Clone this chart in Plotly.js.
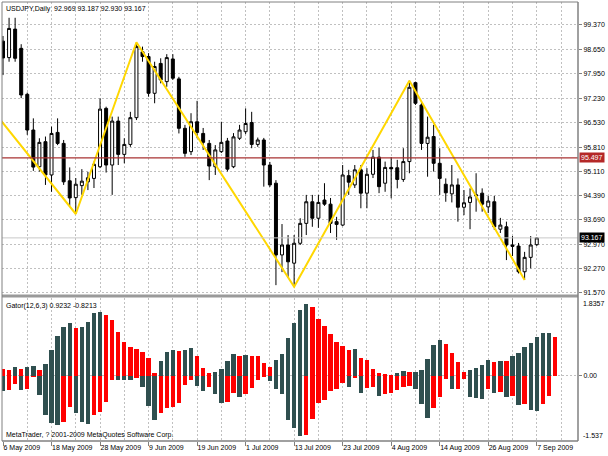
<!DOCTYPE html>
<html><head><meta charset="utf-8">
<script src="https://cdn.plot.ly/plotly-3.0.1.min.js"></script>
<style>html,body{margin:0;padding:0;background:#fff}#c{width:608px;height:456px}</style>
</head><body><div id="c"></div>
<script>
// ---- data ----
const opens = [98.90,98.42,99.25,98.69,97.35,96.31,95.24,95.97,95.00,96.24,
95.92,94.83,94.34,94.69,94.80,94.90,95.24,96.94,95.29,96.57,
95.60,95.89,96.67,98.59,98.45,97.38,98.25,97.72,98.38,97.80,
96.36,95.68,96.55,96.21,95.92,95.24,95.68,95.99,95.24,96.07,
96.26,96.53,95.89,96.02,95.29,94.76,92.67,92.96,92.43,93.01,
93.59,94.22,93.74,94.27,94.15,93.64,93.54,94.98,94.71,95.15,
94.47,95.02,95.52,94.76,95.22,95.21,94.87,95.39,97.69,97.04,
95.92,96.12,95.34,94.73,94.45,94.71,94.06,94.20,94.39,94.47,
94.07,94.22,93.42,93.49,92.96,92.93,92.18,92.60,92.969];
const highs = [99.05,99.58,99.58,98.81,97.40,96.65,96.07,96.12,96.41,96.65,
96.02,95.22,94.91,95.17,95.09,95.39,97.23,96.99,96.70,96.70,
96.07,96.84,98.866,98.74,98.55,98.30,98.40,98.52,98.52,97.86,
96.46,96.80,97.16,96.37,96.02,95.87,96.55,96.08,96.22,96.46,
96.94,96.84,96.09,96.08,95.38,94.85,93.57,93.25,93.25,93.74,
94.42,94.42,94.42,94.76,94.33,93.78,95.29,95.15,95.29,95.29,
95.20,95.73,95.79,95.39,95.52,95.44,95.78,97.747,97.72,97.10,
96.70,96.46,95.78,94.90,95.29,94.90,94.56,94.61,95.05,94.61,
94.39,94.39,93.75,93.64,93.22,93.02,92.76,93.22,93.187];
const lows = [97.91,98.30,98.30,97.24,96.17,95.12,95.10,94.71,94.51,95.87,
94.71,94.10,93.863,94.42,94.56,94.62,95.20,95.07,94.42,95.29,
95.34,95.82,96.60,98.30,97.28,97.09,97.67,97.57,97.77,96.21,
95.53,95.58,96.07,95.73,94.85,95.00,95.64,95.10,95.20,96.02,
96.19,95.78,95.82,94.66,94.65,91.79,92.17,92.00,91.745,92.96,
93.25,93.49,93.46,94.10,93.31,93.11,93.51,94.42,94.62,94.03,
94.03,94.91,94.47,94.51,94.32,94.61,94.80,95.05,97.04,95.73,
94.95,95.10,94.42,94.22,94.20,93.64,93.83,93.42,93.93,93.93,
93.89,93.40,93.31,92.52,92.64,92.13,91.94,92.28,92.930];
const closes = [98.41,99.27,98.40,97.33,96.31,95.23,95.95,95.00,96.21,95.92,
94.80,94.33,94.73,94.82,94.92,95.31,96.92,95.29,96.57,95.60,
95.89,96.67,98.74,98.45,97.38,98.16,97.77,98.42,97.82,96.36,
95.63,96.55,96.24,95.95,95.26,95.73,95.95,95.17,96.11,96.31,
96.50,95.89,96.02,95.29,94.71,92.67,92.96,92.47,93.01,93.59,
94.22,93.74,94.20,94.15,93.59,93.56,95.00,94.79,95.15,94.47,
95.02,95.52,94.66,95.22,95.18,94.87,95.39,97.555,97.09,95.92,
96.10,95.34,94.90,94.48,94.71,94.06,94.19,94.36,94.42,94.15,
94.24,93.49,93.54,92.96,92.92,92.18,92.60,92.96,93.167];
const barIdx = opens.map((_, i) => i);

// ZigZag pivots (bar index, price)
const zzIdx = [-3, 12, 22, 48, 67, 86];
const zzPrice = [97.17, 93.863, 98.866, 91.745, 97.747, 91.94];

// Gator oscillator, bar index -1 .. 91
const gatorIdx = Array.from({length: 93}, (_, i) => i - 1);
const gatorUp = [0.189,0.158,0.142,0.219,0.165,0.219,0.226,0.142,0.283,0.613,0.943,
1.156,1.243,1.125,1.149,1.281,1.479,1.517,1.439,1.321,1.045,
0.809,0.691,0.630,0.573,0.417,0.064,0.361,0.573,0.613,0.597,
0.613,0.667,0.472,0.182,0.064,0.094,0.165,0.354,0.512,0.472,
0.495,0.472,0.460,0.300,0.205,0.377,0.512,0.889,1.243,1.557,
1.698,1.627,1.344,1.179,0.991,0.802,0.708,0.613,0.637,0.425,
0.377,0.165,0.071,0.035,0.012,0.064,0.118,0.087,0.094,0.142,
0.394,0.731,0.849,0.755,0.550,0.337,0.094,0.142,0.182,0.259,
0.377,0.337,0.354,0.342,0.479,0.535,0.677,0.785,0.923,1.007,
1.021,0.927];
const gatorDown = [0.236,0.347,0.330,0.196,0.330,0.318,0.031,0.448,0.920,1.101,1.156,
1.078,0.738,0.880,1.078,1.139,0.920,0.842,0.606,0.087,0.094,
0.101,0.106,0.047,0.252,0.708,1.038,0.880,0.762,0.738,0.644,
0.212,0.094,0.236,0.347,0.252,0.425,0.644,0.613,0.408,0.488,
0.425,0.290,0.094,0.024,0.111,0.307,0.425,1.038,1.226,1.415,
1.403,1.014,0.637,0.566,0.361,0.307,0.172,0.267,0.047,0.401,
0.283,0.259,0.472,0.425,0.408,0.330,0.252,0.236,0.314,0.660,
0.998,0.748,0.488,0.071,0.314,0.307,0.078,0.488,0.526,0.550,
0.314,0.394,0.370,0.502,0.472,0.684,0.660,0.802,0.821,0.660,
0.472,null];

const priceTicks = [99.37,98.65,97.95,97.23,96.53,95.81,95.11,94.39,93.69,92.97,92.27,91.57];
const dateIdx = [0,8,16,24,32,40,48,56,64,72,80,88];
const dateLabels = ['6 May 2009','18 May 2009','28 May 2009','9 Jun 2009','19 Jun 2009','1 Jul 2009',
'13 Jul 2009','23 Jul 2009','4 Aug 2009','14 Aug 2009','26 Aug 2009','7 Sep 2009'];
const levelLine = 95.497;
const lastPrice = 93.167;
const gatorMax = 1.8357, gatorMin = -1.537;
const headerText = 'USDJPY,Daily  92.969 93.187 92.930 93.167';
const gatorText = 'Gator(12,6,3) 0.9232 -0.8213';
const copyText = 'MetaTrader, ? 2001-2009 MetaQuotes Software Corp.';

// ---- drawing ----
const DARK = '#2F4F4F', RED = '#FF0000', GRID = '#C0C0C0', AX = '#808080';
const upColors = gatorUp.map((v, i) => (i > 0 && v < gatorUp[i-1]) ? RED : DARK);
const downColors = gatorDown.map((v, i) => (i > 0 && v !== null && gatorDown[i-1] !== null && v < gatorDown[i-1]) ? RED : DARK);

const traces = [
  {type:'bar', x:gatorIdx, y:gatorUp, xaxis:'x', yaxis:'y2', width:0.72,
   marker:{color:upColors, line:{width:0}}, hoverinfo:'skip'},
  {type:'bar', x:gatorIdx, y:gatorDown.map(v => v === null ? null : -v), xaxis:'x', yaxis:'y2', width:0.72,
   marker:{color:downColors, line:{width:0}}, hoverinfo:'skip'},
  {type:'candlestick', x:barIdx, open:opens, high:highs, low:lows, close:closes, xaxis:'x', yaxis:'y',
   whiskerwidth:0,
   increasing:{line:{color:'#000', width:1}, fillcolor:'#FFFFFF'},
   decreasing:{line:{color:'#000', width:1}, fillcolor:'#000000'}, hoverinfo:'skip'},
  {type:'scatter', mode:'lines', x:zzIdx, y:zzPrice, xaxis:'x', yaxis:'y',
   line:{color:'#FFD700', width:2}, hoverinfo:'skip'}
];

const PL = 2, PT = 2, PW = 576, PH = 439;
const px = v => (v - PL) / PW;
const py = v => (PT + PH - v) / PH;
const FONT = '"Liberation Sans", Arial, sans-serif';

const layout = {
  width:608, height:456,
  margin:{l:PL, r:608-PL-PW, t:PT, b:456-PT-PH, pad:0},
  paper_bgcolor:'#FFFFFF', plot_bgcolor:'#FFFFFF', showlegend:false,
  font:{family:FONT, size:7, color:'#000'},
  bargap:0, barmode:'overlay',
  xaxis:{range:[-0.165, 94.8], anchor:'y2', tickmode:'array', tickvals:dateIdx, ticktext:dateLabels,
    tickangle:0, automargin:false,
    ticklabelposition:'outside right', ticks:'outside', ticklen:4, tickcolor:AX, tickfont:{size:7, family:FONT},
    showgrid:true, gridcolor:GRID, griddash:'2px,2px', gridwidth:1,
    minor:{tickmode:'array', tickvals:dateIdx.map(v => v + 4), showgrid:true, gridcolor:GRID, griddash:'2px,2px', ticks:''},
    zeroline:false, showline:false, rangeslider:{visible:false}, fixedrange:true},
  yaxis:{domain:[py(294), 1], range:[91.532, 100.04], side:'right', anchor:'x',
    tickmode:'array', tickvals:priceTicks, ticktext:priceTicks.map(v => v.toFixed(3)),
    ticks:'outside', ticklen:3, tickcolor:AX, tickfont:{size:7, family:FONT}, automargin:false,
    showgrid:true, gridcolor:GRID, griddash:'2px,2px', zeroline:false, showline:false, fixedrange:true},
  yaxis2:{domain:[0, py(298)], range:[gatorMin, gatorMax], side:'right', anchor:'x',
    tickmode:'array', tickvals:[0], ticktext:['0.00'], ticks:'outside', ticklen:3, tickcolor:AX,
    tickfont:{size:7, family:FONT}, automargin:false,
    showgrid:true, gridcolor:GRID, griddash:'2px,2px', zeroline:false, showline:false, fixedrange:true},
  shapes:[
    {type:'line', xref:'paper', yref:'y', x0:0, x1:1, y0:lastPrice, y1:lastPrice, line:{color:'#C8C8C8', width:1}},
    {type:'line', xref:'paper', yref:'y', x0:0, x1:1, y0:levelLine, y1:levelLine, line:{color:'#A83232', width:1.3}},
    {type:'line', xref:'paper', yref:'paper', x0:0, x1:1, y0:py(296), y1:py(296), line:{color:'#9A9A9A', width:3}},
    {type:'line', xref:'paper', yref:'paper', x0:1, x1:1, y0:0, y1:1, line:{color:AX, width:1.5}},
    {type:'line', xref:'paper', yref:'paper', x0:0, x1:0, y0:0, y1:1, line:{color:AX, width:1}},
    {type:'line', xref:'paper', yref:'paper', x0:0, x1:1, y0:1, y1:1, line:{color:AX, width:1}},
    {type:'line', xref:'paper', yref:'paper', x0:0, x1:1, y0:0, y1:0, line:{color:AX, width:1.5}}
  ],
  annotations:[
    {text:headerText, xref:'paper', yref:'paper', x:px(4), y:py(2.5), xanchor:'left', yanchor:'top', showarrow:false, font:{size:7}},
    {text:gatorText, xref:'paper', yref:'paper', x:px(4), y:py(300), xanchor:'left', yanchor:'top', showarrow:false, font:{size:7}},
    {text:copyText, xref:'paper', yref:'paper', x:px(4), y:py(441), xanchor:'left', yanchor:'bottom', showarrow:false, font:{size:7}},
    {text:levelLine.toFixed(3), xref:'paper', yref:'y', x:1, y:levelLine, xanchor:'left', yanchor:'middle', xshift:1,
     showarrow:false, bgcolor:'#B42828', borderpad:1, font:{size:7, color:'#FFFFFF'}},
    {text:lastPrice.toFixed(3), xref:'paper', yref:'y', x:1, y:lastPrice, xanchor:'left', yanchor:'middle', xshift:1,
     showarrow:false, bgcolor:'#000000', borderpad:1, font:{size:7, color:'#FFFFFF'}},
    {text:gatorMax.toFixed(4), xref:'paper', yref:'y2', x:1, y:gatorMax, xanchor:'left', yanchor:'top', xshift:3,
     showarrow:false, font:{size:7}},
    {text:gatorMin.toFixed(3), xref:'paper', yref:'y2', x:1, y:gatorMin, xanchor:'left', yanchor:'bottom', xshift:3,
     showarrow:false, font:{size:7}}
  ]
};

Plotly.newPlot('c', traces, layout, {staticPlot:true, displayModeBar:false});
</script>
</body></html>
